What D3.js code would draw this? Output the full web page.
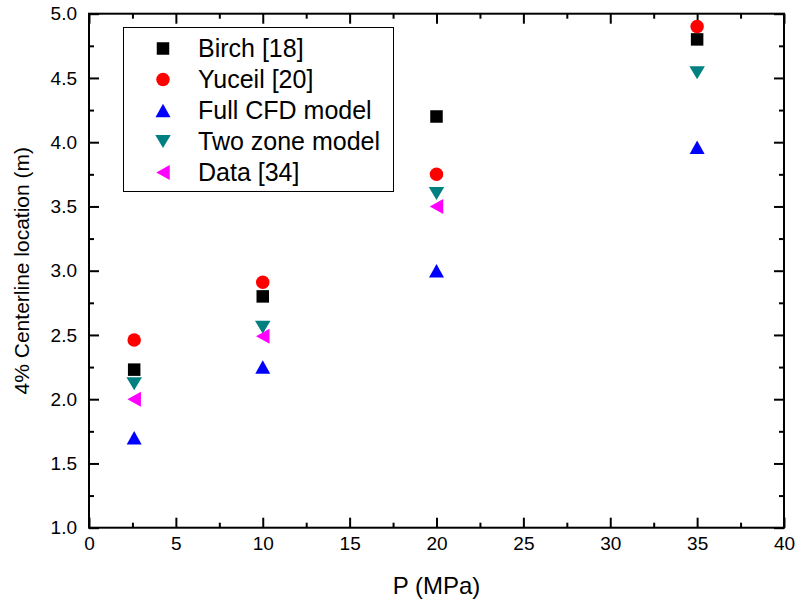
<!DOCTYPE html>
<html>
<head>
<meta charset="utf-8">
<script src="https://cdn.jsdelivr.net/npm/d3@7"></script>
<style>
  html, body { margin: 0; padding: 0; background: #fff; }
  svg { display: block; font-family: "Liberation Sans", Arial, sans-serif; }
</style>
</head>
<body>
<svg id="chart" width="797" height="603"></svg>
<script>
// ---- data ----
const pressures = [2.6, 10, 20, 35];
const birch   = [2.23, 2.80, 4.20, 4.80];
const yuceil  = [2.46, 2.91, 3.75, 4.90];
const fullCFD = [1.70, 2.25, 3.00, 3.96];
const twoZone = [2.12, 2.56, 3.60, 4.54];
const data34  = [2.00, 2.49, 3.50];
const seriesNames = ["Birch [18]", "Yuceil [20]", "Full CFD model", "Two zone model", "Data [34]"];
const xTicks = [0, 5, 10, 15, 20, 25, 30, 35, 40];
const yTicks = [1.0, 1.5, 2.0, 2.5, 3.0, 3.5, 4.0, 4.5, 5.0];
const xTitle = "P (MPa)";
const yTitle = "4% Centerline location (m)";

// ---- layout ----
const svg = d3.select("#chart");
const L = 89, R = 784, T = 13.7, B = 527.7;
const x = d3.scaleLinear().domain([0, 40]).range([L, R]);
const y = d3.scaleLinear().domain([1, 5]).range([B, T]);

// custom symbols (bbox centered)
function tri(dir, w, h) {
  return { draw(ctx, size) {
    const k = Math.sqrt(size / 100);
    const hw = w * k / 2, hh = h * k / 2;
    if (dir === "up") { ctx.moveTo(0, -hh); ctx.lineTo(hw, hh); ctx.lineTo(-hw, hh); }
    else if (dir === "down") { ctx.moveTo(0, hh); ctx.lineTo(hw, -hh); ctx.lineTo(-hw, -hh); }
    else { ctx.moveTo(-hw, 0); ctx.lineTo(hw, -hh); ctx.lineTo(hw, hh); }
    ctx.closePath();
  }};
}
const sq = { draw(ctx, size) { const s = Math.sqrt(size / 100) * 12.5 / 2; ctx.rect(-s, -s, 2 * s, 2 * s); } };
const circ = { draw(ctx, size) { const r = Math.sqrt(size / 100) * 13.5 / 2; ctx.moveTo(r, 0); ctx.arc(0, 0, r, 0, 2 * Math.PI); } };

const series = [
  { name: seriesNames[0], vals: birch,   color: "#000000", type: sq },
  { name: seriesNames[1], vals: yuceil,  color: "#FF0000", type: circ },
  { name: seriesNames[2], vals: fullCFD, color: "#0000FF", type: tri("up", 15, 13.5) },
  { name: seriesNames[3], vals: twoZone, color: "#008080", type: tri("down", 15.5, 13) },
  { name: seriesNames[4], vals: data34,  color: "#FF00FF", type: tri("left", 13.5, 15) }
];
const sym = t => d3.symbol().type(t).size(100);

// ---- axes ----
const xMinor = xTicks.slice(0, -1).map(v => v + 2.5);
const yMinor = yTicks.slice(0, -1).map(v => v + 0.25);

function styleAxis(g) {
  g.select(".domain").remove();
  g.selectAll(".tick line").attr("stroke", "#000").attr("stroke-width", 2);
  g.selectAll(".tick text").attr("fill", "#000").style("font-size", "19px")
    .style("font-family", "'Liberation Sans', Arial, sans-serif");
}

// bottom
svg.append("g").attr("transform", `translate(0,${B})`)
  .call(d3.axisBottom(x).tickValues(xTicks).tickFormat(d3.format("d")).tickSizeInner(-10).tickSizeOuter(0).tickPadding(9))
  .call(styleAxis);
svg.append("g").attr("transform", `translate(0,${B})`)
  .call(d3.axisBottom(x).tickValues(xMinor).tickFormat("").tickSizeInner(-5).tickSizeOuter(0))
  .call(styleAxis);
// top
svg.append("g").attr("transform", `translate(0,${T})`)
  .call(d3.axisTop(x).tickValues(xTicks).tickFormat("").tickSizeInner(-10).tickSizeOuter(0))
  .call(styleAxis);
svg.append("g").attr("transform", `translate(0,${T})`)
  .call(d3.axisTop(x).tickValues(xMinor).tickFormat("").tickSizeInner(-5).tickSizeOuter(0))
  .call(styleAxis);
// left
svg.append("g").attr("transform", `translate(${L},0)`)
  .call(d3.axisLeft(y).tickValues(yTicks).tickFormat(d3.format(".1f")).tickSizeInner(-10).tickSizeOuter(0).tickPadding(12))
  .call(styleAxis);
svg.append("g").attr("transform", `translate(${L},0)`)
  .call(d3.axisLeft(y).tickValues(yMinor).tickFormat("").tickSizeInner(-5).tickSizeOuter(0))
  .call(styleAxis);
// right
svg.append("g").attr("transform", `translate(${R},0)`)
  .call(d3.axisRight(y).tickValues(yTicks).tickFormat("").tickSizeInner(-10).tickSizeOuter(0))
  .call(styleAxis);
svg.append("g").attr("transform", `translate(${R},0)`)
  .call(d3.axisRight(y).tickValues(yMinor).tickFormat("").tickSizeInner(-5).tickSizeOuter(0))
  .call(styleAxis);

// frame
svg.append("rect").attr("x", L).attr("y", T).attr("width", R - L).attr("height", B - T)
  .attr("fill", "none").attr("stroke", "#000").attr("stroke-width", 2);

// titles
svg.append("text").attr("x", (L + R) / 2).attr("y", 594).attr("text-anchor", "middle")
  .style("font-size", "24px").text(xTitle);
svg.append("text").attr("transform", `translate(29,${(T + B) / 2}) rotate(-90)`).attr("text-anchor", "middle")
  .style("font-size", "21px").text(yTitle);

// ---- points ----
series.forEach(s => {
  svg.append("g").selectAll("path").data(s.vals).join("path")
    .attr("transform", (d, i) => `translate(${x(pressures[i])},${y(d)})`)
    .attr("d", sym(s.type)).attr("fill", s.color);
});

// ---- legend ----
const lg = svg.append("g");
lg.append("rect").attr("x", 123.5).attr("y", 27.5).attr("width", 270).attr("height", 164)
  .attr("fill", "#fff").attr("stroke", "#000").attr("stroke-width", 1);
series.forEach((s, i) => {
  const cy = 48.5 + i * 31;
  lg.append("path").attr("transform", `translate(163,${cy})`).attr("d", sym(s.type)).attr("fill", s.color);
  lg.append("text").attr("x", 198).attr("y", cy).attr("dy", "0.35em")
    .style("font-size", "25px").text(s.name);
});
</script>
</body>
</html>
